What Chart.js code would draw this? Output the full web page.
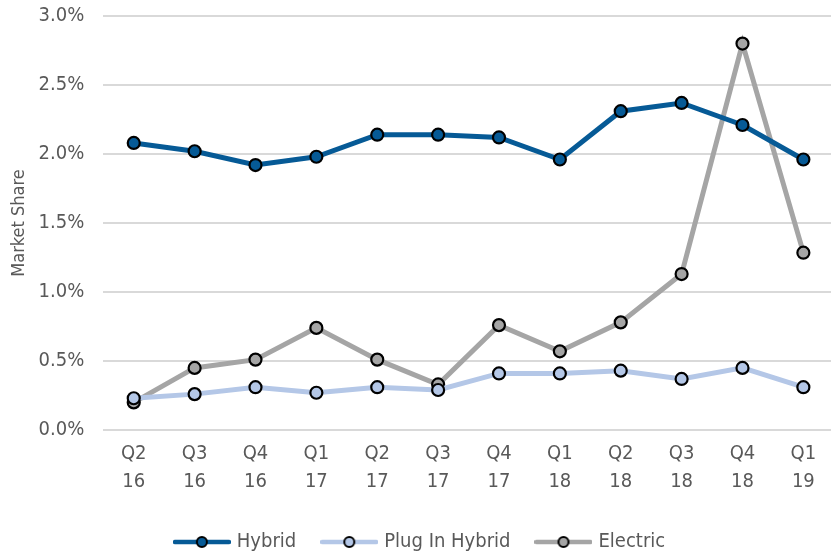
<!DOCTYPE html>
<html>
<head>
<meta charset="utf-8">
<script src="https://cdn.jsdelivr.net/npm/chart.js@4"></script>
<style>
  html, body { margin: 0; padding: 0; background: #fff; overflow: hidden; }
  #wrap { width: 831px; height: 552px; overflow: hidden; }
</style>
</head>
<body>
<div id="wrap"><canvas id="grafica" width="842" height="552"></canvas></div>
<script>
// Datos (cuota de mercado, %)
const trimestres = [['Q2','16'],['Q3','16'],['Q4','16'],['Q1','17'],['Q2','17'],['Q3','17'],
                    ['Q4','17'],['Q1','18'],['Q2','18'],['Q3','18'],['Q4','18'],['Q1','19']];
const hibrido = [2.08, 2.02, 1.92, 1.98, 2.14, 2.14, 2.12, 1.96, 2.31, 2.37, 2.21, 1.96];
const enchufable = [0.23, 0.26, 0.31, 0.27, 0.31, 0.29, 0.41, 0.41, 0.43, 0.37, 0.45, 0.31];
const electrico = [0.20, 0.45, 0.51, 0.74, 0.51, 0.33, 0.76, 0.57, 0.78, 1.13, 2.80, 1.285];
const nombres = ['Hybrid', 'Plug In Hybrid', 'Electric'];
const colores = ['#065a96', '#b4c7e7', '#a5a5a5'];

const fuente = "'DejaVu Sans Condensed', 'Liberation Sans Narrow', sans-serif";
const gris = '#595959';

// Marcador de leyenda: linea con circulo
function marcador(color) {
    const c = document.createElement('canvas');
    c.width = 58; c.height = 14;
    const g = c.getContext('2d');
    g.strokeStyle = color;
    g.lineWidth = 4.5;
    g.lineCap = 'round';
    g.beginPath(); g.moveTo(2, 7); g.lineTo(56, 7); g.stroke();
    g.beginPath(); g.arc(29, 7, 5, 0, Math.PI * 2);
    g.fillStyle = color; g.fill();
    g.lineWidth = 2; g.strokeStyle = '#000'; g.stroke();
    return c;
}
const marcadores = colores.map(marcador);

function serie(i, datos) {
    return {
        label: nombres[i],
        data: datos,
        borderColor: colores[i],
        backgroundColor: colores[i],
        borderWidth: 5,
        pointRadius: 6,
        pointBorderWidth: 2.2,
        pointBorderColor: '#000',
        pointBackgroundColor: colores[i],
        tension: 0
    };
}

const ctx = document.getElementById('grafica').getContext('2d');
new Chart(ctx, {
    type: 'line',
    data: {
        labels: trimestres,
        datasets: [serie(0, hibrido), serie(1, enchufable), serie(2, electrico)]
    },
    options: {
        responsive: false,
        animation: false,
        layout: { padding: { top: 16, right: 0, left: 0, bottom: -10 } },
        scales: {
            x: {
                offset: true,
                grid: { display: false, drawTicks: false },
                border: { display: false },
                ticks: { color: gris, font: { family: fuente, size: 20, lineHeight: 1.4 }, padding: 10, maxRotation: 0 },
                afterFit: s => { s.height = 74; s.paddingLeft = 0; s.paddingRight = 0; }
            },
            y: {
                min: 0, max: 3,
                grid: { color: '#d9d9d9', lineWidth: 2, drawTicks: false },
                border: { display: false },
                ticks: {
                    stepSize: 0.5,
                    color: gris,
                    font: { family: fuente, size: 20 },
                    padding: 19,
                    callback: v => v.toFixed(1) + '%'
                },
                title: { display: true, text: 'Market Share', color: gris, font: { family: fuente, size: 18 }, padding: { top: 9, bottom: -11 } },
                afterFit: s => { s.paddingTop = 0; s.paddingBottom = 0; }
            }
        },
        plugins: {
            tooltip: { enabled: false },
            legend: {
                position: 'bottom',
                labels: {
                    color: gris,
                    font: { family: fuente, size: 20 },
                    usePointStyle: true,
                    pointStyleWidth: 50,
                    boxHeight: 14,
                    padding: 28,
                    generateLabels: chart => {
                        const items = Chart.defaults.plugins.legend.labels.generateLabels(chart);
                        items.forEach((it, i) => { it.pointStyle = marcadores[i]; });
                        return items;
                    }
                }
            }
        }
    }
});
</script>
</body>
</html>
